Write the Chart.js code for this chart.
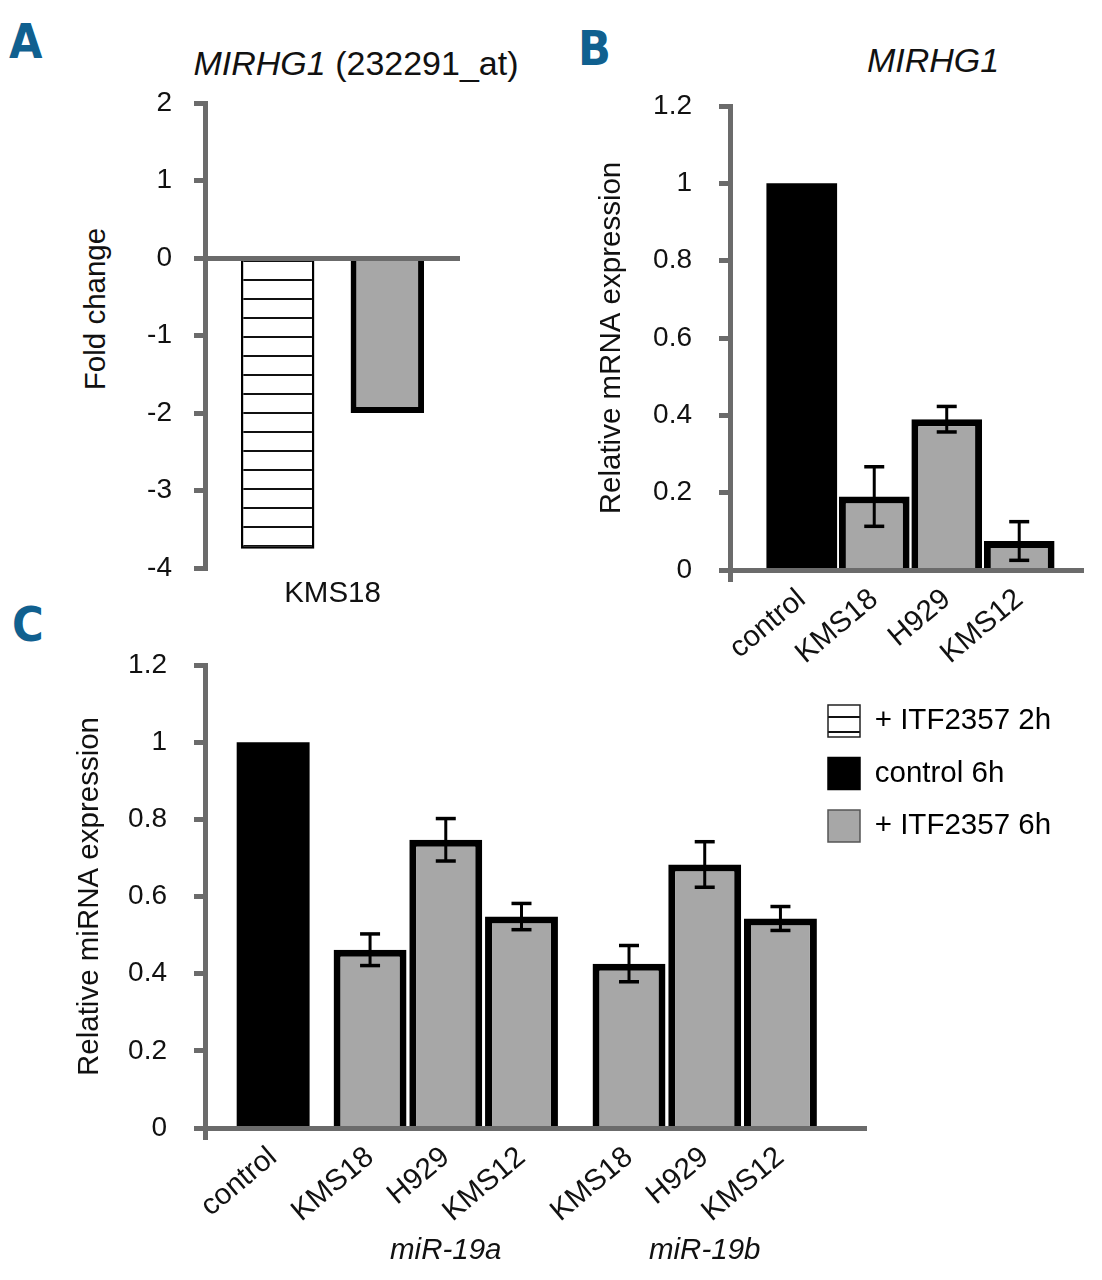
<!DOCTYPE html>
<html>
<head>
<meta charset="utf-8">
<script src="https://cdn.jsdelivr.net/npm/chart.js@4.4.1/dist/chart.umd.min.js"></script>
<style>
  html, body { margin: 0; padding: 0; background: #fff; }
  body {
    width: 1102px; height: 1280px; position: relative; overflow: hidden;
    font-family: 'Liberation Sans', Arial, sans-serif;
    color: #111;
  }
  .panel { position: absolute; }
  .letter { position: absolute; font-family: 'DejaVu Sans Condensed', 'DejaVu Sans', sans-serif;
            font-weight: bold; font-size: 48px; line-height: 48px; color: #10608f; }
  .title { position: absolute; width: 400px; font-size: 34px; line-height: 34px; text-align: center; white-space: nowrap; }
  .ytitle { position: absolute; width: 240px; height: 40px; font-size: 29.5px; line-height: 40px; text-align: center; transform: rotate(-90deg); }
</style>
</head>
<body>
<div class="letter" style="left:9px; top:17px">A</div>
<div class="letter" style="left:578px; top:24px">B</div>
<div class="letter" style="left:12px; top:600px">C</div>

<div class="title" style="left:156px; top:46px"><i>MIRHG1</i> (232291_at)</div>
<div class="title" style="left:733px; top:43px"><i>MIRHG1</i></div>
<div class="ytitle" style="left:-25px; top:289px">Fold change</div>

<div class="panel" style="left:0; top:60px; width:480px; height:560px"><canvas id="chartA"></canvas></div>
<div class="panel" style="left:560px; top:60px; width:542px; height:620px"><canvas id="chartB"></canvas></div>
<div class="panel" style="left:0; top:615px; width:1102px; height:665px"><canvas id="chartC"></canvas></div>

<script>
// ---- data ----
const seriesNames = ['+ ITF2357 2h', 'control 6h', '+ ITF2357 6h'];

// A: microarray fold change
const labelsA = ['KMS18'];
const fold2h = [-3.75];
const fold6h = [-2.0];

// B: MIRHG1 qPCR
const labelsB = ['control', 'KMS18', 'H929', 'KMS12'];
const valuesB = [1.0, 0.19, 0.39, 0.075];
const errorsB = [0, 0.077, 0.033, 0.05];

// C: miR-19a / miR-19b qPCR
const groupsC = ['', 'miR-19a', 'miR-19b'];
const groupOfC = [0, 1, 1, 1, 2, 2, 2];
const labelsC = ['control', 'KMS18', 'H929', 'KMS12', 'KMS18', 'H929', 'KMS12'];
const valuesC = [1.0, 0.462, 0.747, 0.548, 0.426, 0.683, 0.543];
const errorsC = [0, 0.041, 0.055, 0.034, 0.047, 0.059, 0.031];

// ---- style ----
const FONT = "'Liberation Sans', Arial, sans-serif";
const AXIS_GREY = '#6b6b6b';
const BAR_GREY = '#a7a7a7';
const INK = '#111';
const TICK_SIZE = 28;
const TEXT_SIZE = 29.5;

Chart.defaults.font.family = FONT;
Chart.defaults.color = INK;

// extra space between groups in panel C (in bar widths)
const GROUP_SHIFT = [0, 0.28, 0.70];

function hatch(canvas, step, lineAt) {
  const tile = document.createElement('canvas');
  tile.width = 8; tile.height = step;
  const g = tile.getContext('2d');
  g.fillStyle = '#fff'; g.fillRect(0, 0, 8, step);
  g.fillStyle = '#111'; g.fillRect(0, lineAt, 8, 2);
  return canvas.getContext('2d').createPattern(tile, 'repeat');
}

function fmt(v) { return String(Number(v.toFixed(1))); }

// whiskers as thin floating bars, caps as line-style points
function errorSets(pos, vals, errs) {
  const whisk = [], caps = [];
  vals.forEach((v, i) => {
    if (!errs[i]) return;
    whisk.push({ x: pos[i], y: [v - errs[i], v + errs[i]] });
    caps.push({ x: pos[i], y: v + errs[i] }, { x: pos[i], y: v - errs[i] });
  });
  return [
    { type: 'bar', label: 'SD', data: whisk, backgroundColor: '#000', borderWidth: 0,
      grouped: false, maxBarThickness: 3, order: 0 },
    { type: 'line', label: 'SD caps', data: caps, showLine: false, pointStyle: 'line',
      pointRadius: 10, pointHoverRadius: 10, pointBorderWidth: 3.5,
      pointBorderColor: '#000', borderColor: '#000', order: 0 }
  ];
}

function barSets(pos, labels, vals, ratio, border) {
  const ctrl = [], treated = [];
  vals.forEach((v, i) => (labels[i] === 'control' ? ctrl : treated).push({ x: pos[i], y: v }));
  return [
    { label: seriesNames[1], data: ctrl, backgroundColor: '#000', borderWidth: 0,
      grouped: false, barPercentage: ratio, categoryPercentage: 1, order: 2 },
    { label: seriesNames[2], data: treated, backgroundColor: BAR_GREY, borderColor: '#000',
      borderWidth: border, grouped: false, barPercentage: ratio, categoryPercentage: 1, order: 2 }
  ];
}

function valueAxis(width, title) {
  return {
    min: 0, max: 1.2,
    ticks: { stepSize: 0.2, padding: 27, font: { size: TICK_SIZE }, callback: fmt },
    border: { color: AXIS_GREY, width: 5, z: 1 },
    grid: { drawOnChartArea: false, tickLength: 11, tickWidth: 5, tickColor: AXIS_GREY, z: 1 },
    title: { display: true, text: title, font: { size: TEXT_SIZE }, padding: { top: 4, bottom: 0 } },
    afterFit: s => { s.width = width; }
  };
}

function indexAxis(min, max, pos, labels, height) {
  return {
    type: 'linear', min, max, offset: false,
    afterBuildTicks: s => { s.ticks = [min].concat(pos).map(v => ({ value: v })); },
    ticks: {
      autoSkip: false, minRotation: 40, maxRotation: 40, padding: 0, font: { size: TEXT_SIZE },
      callback: (v, i) => (i === 0 ? '' : labels[i - 1])
    },
    border: { color: AXIS_GREY, width: 5, z: 1 },
    grid: {
      offset: false, drawOnChartArea: false, tickLength: 12, tickWidth: 5,
      tickColor: c => (c.index === 0 ? AXIS_GREY : 'rgba(0,0,0,0)')
    },
    afterFit: s => { s.height = height; }
  };
}

// ---- A ----
const canvasA = document.getElementById('chartA');
new Chart(canvasA, {
  type: 'bar',
  data: {
    labels: labelsA,
    datasets: [
      { label: seriesNames[0], data: fold2h, backgroundColor: hatch(canvasA, 19, 10),
        borderColor: '#000', borderWidth: 2.5 },
      { label: seriesNames[2], data: fold6h, backgroundColor: BAR_GREY,
        borderColor: '#000', borderWidth: 6 }
    ]
  },
  options: {
    responsive: true, maintainAspectRatio: false, animation: false,
    layout: { padding: { left: 71, top: 43, right: 20, bottom: 0 } },
    datasets: { bar: { categoryPercentage: 0.86, barPercentage: 0.67 } },
    plugins: { legend: { display: false }, tooltip: { enabled: false } },
    scales: {
      x: {
        grid: { display: false }, border: { display: false },
        ticks: { padding: 0, font: { size: TEXT_SIZE } },
        afterFit: s => { s.height = 52; }
      },
      y: {
        min: -4, max: 2,
        ticks: { stepSize: 1, padding: 22, font: { size: TICK_SIZE }, callback: v => String(v) },
        border: { color: AXIS_GREY, width: 5, z: 1 },
        grid: {
          z: 1, lineWidth: 5, tickLength: 11, tickWidth: 5, tickColor: AXIS_GREY,
          color: c => (c.tick && c.tick.value === 0 ? AXIS_GREY : 'rgba(0,0,0,0)')
        },
        afterFit: s => { s.width = 134; }
      }
    }
  }
});

// ---- B ----
const posB = labelsB.map((_, i) => i);
new Chart(document.getElementById('chartB'), {
  type: 'bar',
  data: {
    datasets: barSets(posB, labelsB, valuesB, 0.985, 7).concat(errorSets(posB, valuesB, errorsB))
  },
  options: {
    responsive: true, maintainAspectRatio: false, animation: false,
    layout: { padding: { left: 30, top: 46, right: 19, bottom: 0 } },
    plugins: { legend: { display: false }, tooltip: { enabled: false } },
    scales: {
      x: indexAxis(-0.99, 3.88, posB, labelsB, 110),
      y: valueAxis(140, 'Relative mRNA expression')
    }
  }
});

// ---- C ----
const posC = labelsC.map((_, i) => i + GROUP_SHIFT[groupOfC[i]]);
const groupMid = groupsC.map((g, k) => {
  const p = posC.filter((_, i) => groupOfC[i] === k);
  return p.reduce((a, b) => a + b, 0) / p.length;
});
const canvasC = document.getElementById('chartC');
const legendFill = [hatch(canvasC, 15, 11), '#000', BAR_GREY];
const legendStroke = ['#222', '#000', '#555'];

// park the legend inside the plot, top right
const legendSpot = {
  id: 'legendSpot',
  afterLayout(chart) {
    const lg = chart.legend;
    const w = lg.width, h = lg.height;
    lg.left = 807.5; lg.top = 69.5; lg.right = lg.left + w; lg.bottom = lg.top + h;
  }
};

new Chart(canvasC, {
  type: 'bar',
  data: {
    datasets: barSets(posC, labelsC, valuesC, 1.07, 7).concat(errorSets(posC, valuesC, errorsC))
  },
  options: {
    responsive: true, maintainAspectRatio: false, animation: false,
    layout: { padding: { left: 68, top: 50, right: 236, bottom: 14 } },
    plugins: {
      tooltip: { enabled: false },
      legend: {
        position: 'chartArea', align: 'start',
        labels: {
          boxWidth: 32, boxHeight: 32, padding: 20.5, color: INK, font: { size: TEXT_SIZE },
          generateLabels: () => seriesNames.map((t, i) => ({
            text: t, fillStyle: legendFill[i], strokeStyle: legendStroke[i],
            lineWidth: 1.5, hidden: false, index: i
          }))
        }
      }
    },
    scales: {
      x: indexAxis(-0.9, 7.83, posC, labelsC, 95),
      xg: {
        type: 'linear', position: 'bottom', weight: 1, min: -0.9, max: 7.83, offset: false,
        afterBuildTicks: s => { s.ticks = groupMid.slice(1).map(v => ({ value: v })); },
        ticks: {
          autoSkip: false, minRotation: 0, maxRotation: 0, padding: 2,
          font: { size: TEXT_SIZE, style: 'italic' },
          callback: (v, i) => groupsC[i + 1]
        },
        grid: { display: false, offset: false }, border: { display: false },
        afterFit: s => { s.height = 43; }
      },
      y: valueAxis(137, 'Relative miRNA expression')
    }
  },
  plugins: [legendSpot]
});
</script>
</body>
</html>
